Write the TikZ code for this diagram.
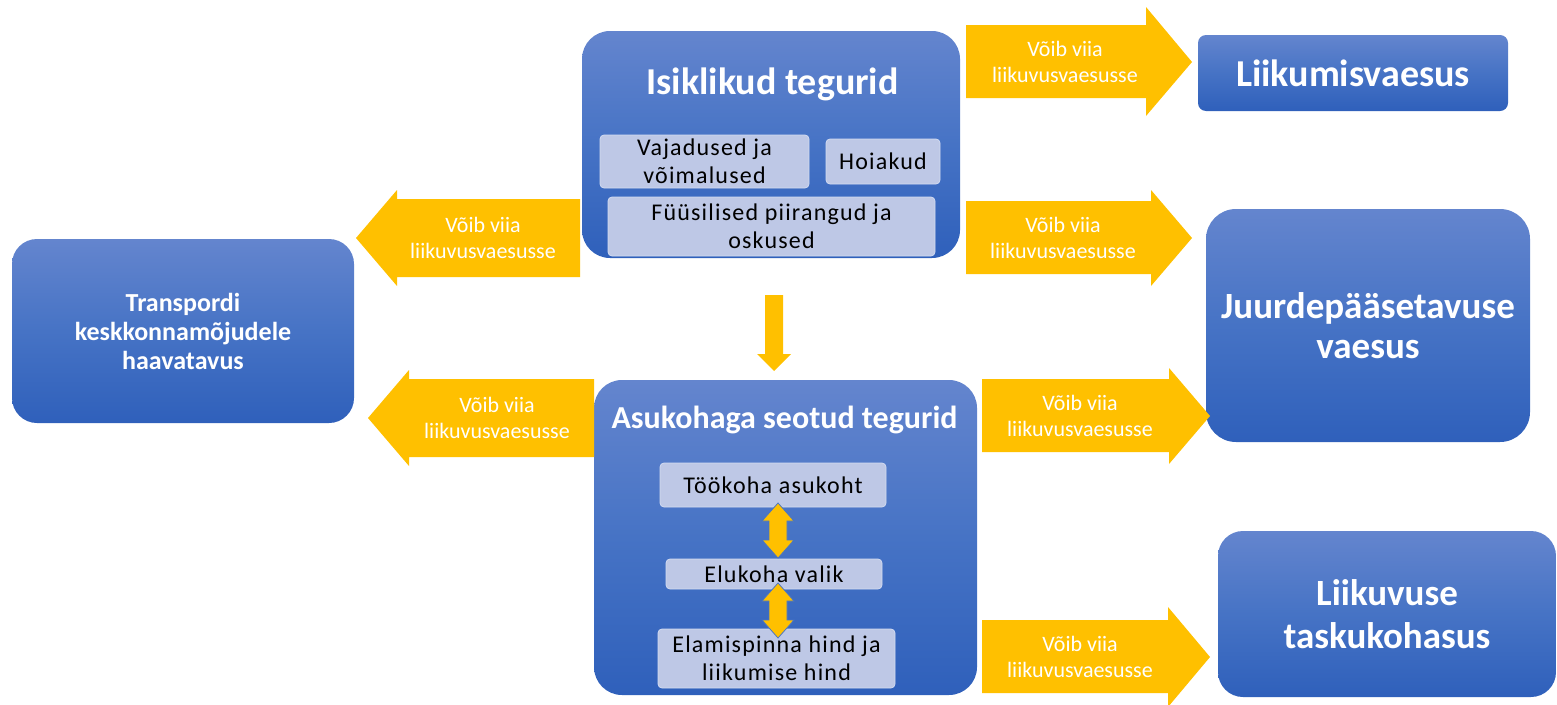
\documentclass[tikz,border=0pt]{standalone}
\usepackage{fontspec}
\setmainfont{Carlito}
\usepackage{tikz}

\definecolor{sinine1}{RGB}{100,133,206}
\definecolor{sinine2}{RGB}{70,115,197}
\definecolor{sinine3}{RGB}{47,96,187}
\definecolor{lilla}{RGB}{190,200,230}
\definecolor{lillaserv}{RGB}{212,220,241}
\definecolor{kollane}{RGB}{255,192,0}
\newcommand\alamfont{\fontsize{24}{28}\selectfont\addfontfeature{LetterSpace=5}}

\begin{document}
\begin{tikzpicture}[x=1pt,y=1pt,yscale=-1,xscale=1,
    kast/.style={top color=sinine1, bottom color=sinine3, middle color=sinine2, text=white, inner sep=0pt, align=center},
    alamkast/.style={fill=lilla, draw=lillaserv, line width=0.75pt, rounded corners=4pt, inner sep=0pt, align=center, font=\alamfont},
    nool/.style={fill=kollane},
    nooltekst/.style={text=white, align=center, inner sep=0pt, font=\fontsize{22}{26}\selectfont}
  ]
        \useasboundingbox (0,0) rectangle (1557,704);

        %Shape: Rounded Rect (isiklikud tegurid)
        \node (isiklikud) [kast, rounded corners=28pt, minimum width=378pt, minimum height=227pt] at (771,144.5) {};
        %Shape: Rounded Rect (asukohaga seotud tegurid)
        \node (asukoht) [kast, rounded corners=28pt, minimum width=383pt, minimum height=315pt] at (785.5,537.5) {};
        %Shape: Rounded Rect
        \node (transport) [kast, rounded corners=25pt, minimum width=342pt, minimum height=184pt, font=\fontsize{26}{29}\selectfont\bfseries] at (183,331) {Transpordi\\keskkonnamõjudele\\haavatavus};
        %Shape: Rounded Rect
        \node (liikumisvaesus) [kast, rounded corners=8pt, minimum width=310pt, minimum height=76pt, font=\fontsize{38}{44}\selectfont\bfseries] at (1353,73) {Liikumisvaesus};
        %Shape: Rounded Rect
        \node (juurdepaas) [kast, rounded corners=30pt, minimum width=324pt, minimum height=233pt, font=\fontsize{37}{40}\selectfont\bfseries] at (1368,325.5) {Juurdepääsetavuse\\vaesus};
        %Shape: Rounded Rect
        \node (taskukohasus) [kast, rounded corners=25pt, minimum width=338pt, minimum height=166pt, font=\fontsize{37}{43}\selectfont\bfseries] at (1387,614) {Liikuvuse\\taskukohasus};

        % Text Node
        \node (isikpealkiri) [anchor=base, text=white, inner sep=0pt, font=\fontsize{38}{44}\selectfont\bfseries] at (772.5,94) {Isiklikud tegurid};
        % Text Node
        \node (asukpealkiri) [anchor=base, text=white, inner sep=0pt, font=\fontsize{32}{38}\selectfont\bfseries] at (784.5,428) {Asukohaga seotud tegurid};

        %Shape: Rounded Rect (inner boxes)
        \node (vajadused) [alamkast, minimum width=209pt, minimum height=53pt] at (704.5,161.5) {Vajadused ja\\võimalused};
        \node (hoiakud) [alamkast, minimum width=114pt, minimum height=45pt] at (883,161.5) {Hoiakud};
        \node (fyysilised) [alamkast, minimum width=327pt, minimum height=59pt] at (771.5,226.5) {Füüsilised piirangud ja\\oskused};
        \node (tookoht) [alamkast, minimum width=226pt, minimum height=44pt] at (773,485) {Töökoha asukoht};
        \node (elukoht) [alamkast, minimum width=216pt, minimum height=30pt] at (774,574) {Elukoha valik};
        \node (hind) [alamkast, minimum width=237pt, minimum height=59pt] at (776.5,658.5) {Elamispinna hind ja\\liikumise hind};

        %Shape: Up Down Arrow
        \draw [nool, draw=sinine2, line width=0.75pt] (778,503) -- (794,521) -- (787,521) -- (787,540) -- (794,540) -- (778,558) -- (762,540) -- (769,540) -- (769,521) -- (762,521) -- cycle ;
        %Shape: Up Down Arrow
        \draw [nool, draw=sinine2, line width=0.75pt] (778,583) -- (794,601) -- (787,601) -- (787,620) -- (794,620) -- (778,638) -- (762,620) -- (769,620) -- (769,601) -- (762,601) -- cycle ;
        %Shape: Down Arrow
        \fill [nool] (765,295) -- (783,295) -- (783,354) -- (791,354) -- (774,371) -- (757,354) -- (765,354) -- cycle ;

        %Shape: Right Arrow
        \fill [nool] (966,25) -- (1146,25) -- (1146,7) -- (1192,62) -- (1146,116) -- (1146,98) -- (966,98) -- cycle ;
        %Shape: Right Arrow
        \fill [nool] (966,201) -- (1151,201) -- (1151,190) -- (1192,238) -- (1151,286) -- (1151,274) -- (966,274) -- cycle ;
        %Shape: Right Arrow
        \fill [nool] (982,379) -- (1169,379) -- (1169,368) -- (1210,416) -- (1169,464) -- (1169,452) -- (982,452) -- cycle ;
        %Shape: Right Arrow
        \fill [nool] (982,620) -- (1168,620) -- (1168,607) -- (1210,657) -- (1168,707) -- (1168,693) -- (982,693) -- cycle ;
        %Shape: Left Arrow
        \fill [nool] (580,199) -- (397,199) -- (397,190) -- (356,238) -- (397,286) -- (397,277) -- (580,277) -- cycle ;
        %Shape: Left Arrow
        \fill [nool] (594,379) -- (409,379) -- (409,370) -- (368,418) -- (409,466) -- (409,457) -- (594,457) -- cycle ;

        % Text Node
        \node (v1) [nooltekst] at (1065,61.5) {Võib viia\\liikuvusvaesusse};
        % Text Node
        \node (v2) [nooltekst] at (1063,237.5) {Võib viia\\liikuvusvaesusse};
        % Text Node
        \node (v3) [nooltekst] at (1080,415.5) {Võib viia\\liikuvusvaesusse};
        % Text Node
        \node (v4) [nooltekst] at (1080,656.5) {Võib viia\\liikuvusvaesusse};
        % Text Node
        \node (v5) [nooltekst] at (483,238) {Võib viia\\liikuvusvaesusse};
        % Text Node
        \node (v6) [nooltekst] at (497,418) {Võib viia\\liikuvusvaesusse};

\end{tikzpicture}
\end{document}
